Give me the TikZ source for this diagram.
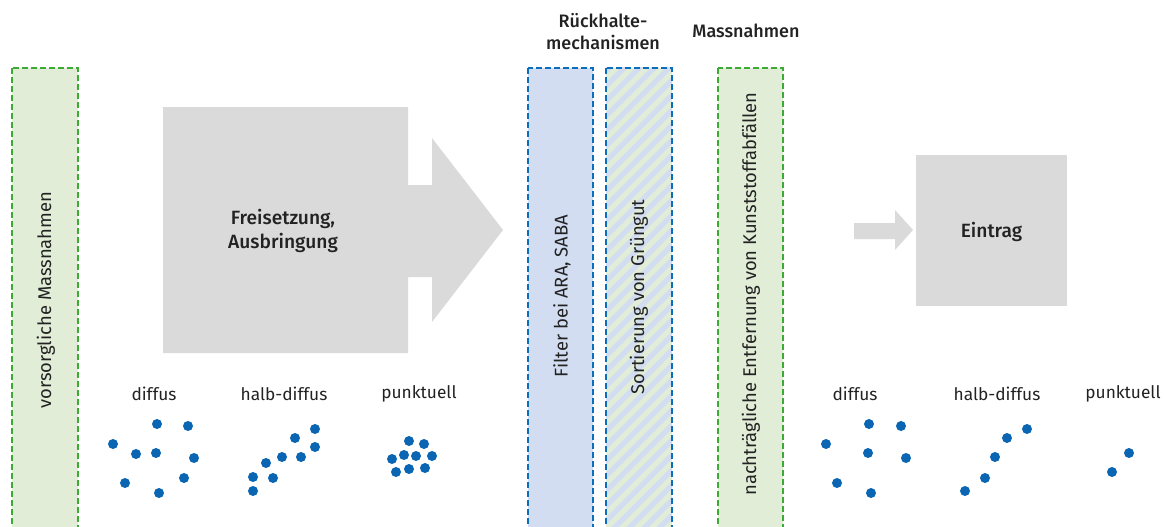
\documentclass[tikz,border=0pt]{standalone}
\usepackage{fontspec}
\setmainfont{Fira Sans}
\newfontfamily\medfont{Fira Sans Medium}
\definecolor{txt}{HTML}{222222}
\definecolor{grey}{HTML}{DADADA}
\definecolor{lgreen}{HTML}{E2EDD8}
\definecolor{lblue}{HTML}{D2DDF1}
\definecolor{dgreen}{HTML}{3DAA35}
\definecolor{dblue}{HTML}{0A6EBD}
\definecolor{dot}{HTML}{0A66B3}
\begin{document}
\begin{tikzpicture}[x=1pt,y=-1pt,
  lab/.style={font=\fontsize{17.3}{20}\selectfont, text=txt, inner sep=0pt},
  head/.style={font=\medfont\fontsize{18}{22}\selectfont, text=txt, align=center, inner sep=0pt},
  boxtext/.style={font=\medfont\fontsize{19.2}{24}\selectfont, text=txt, align=center, inner sep=0pt},
  vtext/.style={font=\fontsize{18.4}{20}\selectfont, text=txt, rotate=90, inner sep=0pt},
  dashborder/.style={line width=2.9pt, dash pattern=on 6pt off 3pt},
  gbox/.style={draw=dgreen, fill=lgreen, dashborder},
  bbox/.style={draw=dblue, fill=lblue, dashborder},
  d/.style={fill=dot, draw=none}
]
\useasboundingbox (0,0) rectangle (1164,527);

% left green box
\path[gbox] (12,68) rectangle (78,532);
\node[vtext] (vors) at (46,300) {vorsorgliche Massnahmen};

% big arrow
\fill[grey] (163,107) -- (408,107) -- (408,185) -- (432,185) -- (432,138) -- (503,230)
  -- (432,322) -- (432,277) -- (408,277) -- (408,353) -- (163,353) -- cycle;
\node[boxtext] (frei) at (283,231) {Freisetzung,\\Ausbringung};

% headers
\node[head] (rueck) at (603,32) {Rückhalte-\\mechanismen};
\node[head] (mass) at (746,31) {Massnahmen};

% blue box
\path[bbox] (528,68) rectangle (593,532);
\node[vtext] (filter) at (562,296) {Filter bei ARA, SABA};

% hatched box
\fill[lgreen] (606,68) rectangle (672,532);
\begin{scope}
  \clip (606,68) rectangle (672,532);
  \foreach \k in {0,...,40} {
    \draw[lblue, line width=5.3pt] (130+\k*15, 532) -- ++(480,-480);
  }
\end{scope}
\draw[dblue, dashborder] (606,68) rectangle (672,532);
\node[vtext] (sort) at (639,297) {Sortierung von Grüngut};

% right green box
\path[gbox] (718,68) rectangle (783,532);
\node[vtext] (nach) at (751,294) {nachträgliche Entfernung von Kunststoffabfällen};

% small arrow
\fill[grey] (854,223) -- (895,223) -- (895,210) -- (913,230) -- (895,250) -- (895,239) -- (854,239) -- cycle;

% Eintrag box
\fill[grey] (916,155) rectangle (1067,306);
\node[boxtext] (ein) at (991.5,232) {Eintrag};

% labels
\node[lab] (l1) at (154,394) {diffus};
\node[lab] (l2) at (284,394) {halb-diffus};
\node[lab] (l3) at (419,394) {punktuell};
\node[lab] (r1) at (855,394) {diffus};
\node[lab] (r2) at (997,394) {halb-diffus};
\node[lab] (r3) at (1123,394) {punktuell};

% dots
\foreach \p in {(157,424),(188,426),(113,444),(136,454),(156,453),(194,458),(125,483),(184,478),(159,493),
  (315,429),(295,438),(315,447),(282,457),(301,457),(266,463),(253,477),(273,478),(253,491),
  (409,441),(424,444),(392,459),(404,455),(416,456),(432,456),(396,472),(409,469),(425,468),
  (869,424),(901,426),(826,444),(868,453),(906,458),(837,483),(871,493),
  (1027,429),(1007,438),(995,457),(985,478),(965,491),
  (1129,453),(1112,472)}
  \fill[d] \p circle (5);
\end{tikzpicture}
\end{document}
